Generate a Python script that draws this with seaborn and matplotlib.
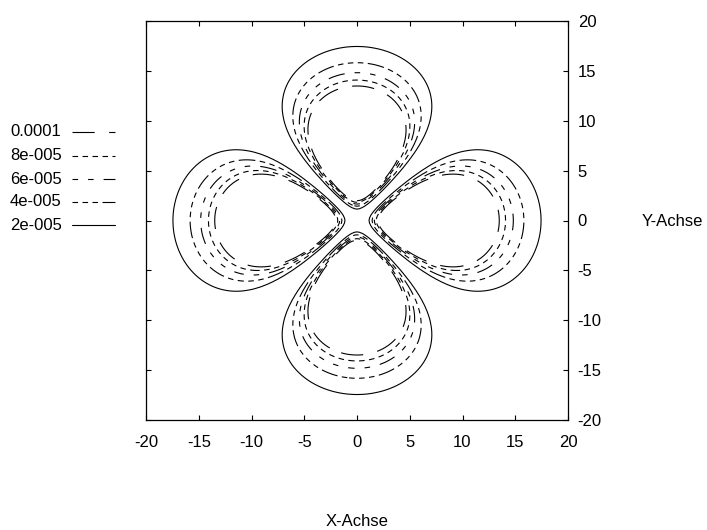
import numpy as np
import matplotlib
matplotlib.use("Agg")
import matplotlib.pyplot as plt
from matplotlib.lines import Line2D
import seaborn as sns

# Contour levels of the probability density (ascending) and their legend text
levels = [2e-5, 4e-5, 6e-5, 8e-5, 1e-4]
level_labels = ["2e-005", "4e-005", "6e-005", "8e-005", "0.0001"]
x_ticks = [-20, -15, -10, -5, 0, 5, 10, 15, 20]
y_ticks = [-20, -15, -10, -5, 0, 5, 10, 15, 20]
x_label = "X-Achse"
y_label = "Y-Achse"

# Pen style for each level (dash lengths in line-width units)
pen_styles = [
    "solid",
    (0, (5, 4, 5, 4, 5, 4, 15, 4)),
    (0, (5, 9, 5, 9, 15, 9)),
    (0, (5, 4)),
    (0, (20, 13)),
]

FS = 12

sns.set_theme(style="white")
plt.rcParams["font.family"] = ["Liberation Sans", "DejaVu Sans"]
plt.rcParams["font.size"] = FS
plt.rcParams["axes.edgecolor"] = "black"
plt.rcParams["text.color"] = "black"
plt.rcParams["xtick.color"] = "black"
plt.rcParams["ytick.color"] = "black"

# Hydrogen 3d(x^2-y^2) orbital density in the z = 0 plane (Bohr radii)
grid = np.linspace(-20, 20, 161)
X, Y = np.meshgrid(grid, grid)
R = np.hypot(X, Y)
radial_sq = (4.0 / (81.0 * np.sqrt(30.0))) ** 2 * np.exp(-2.0 * R / 3.0)
angular_sq = 15.0 / (16.0 * np.pi)
density = radial_sq * angular_sq * (X ** 2 - Y ** 2) ** 2

W, H = 707, 530
fig = plt.figure(figsize=(W / 100, H / 100), dpi=100)
fig.patch.set_facecolor("white")
ax = fig.add_axes([146 / W, 1 - 420 / H, 422 / W, 399 / H])
ax.set_facecolor("white")

lw = 0.8
ax.contour(X, Y, density, levels=levels, colors="black",
           linewidths=lw, linestyles=pen_styles)

ax.set_xlim(-20, 20)
ax.set_ylim(-20, 20)
ax.set_xticks(x_ticks)
ax.set_yticks(y_ticks)
ax.set_xticklabels([str(v) for v in x_ticks])
ax.set_yticklabels([str(v) for v in y_ticks])
for s in ax.spines.values():
    s.set_visible(True)
    s.set_linewidth(0.9)
    s.set_color("black")
ax.tick_params(axis="both", direction="in", length=3.5, width=0.8,
               top=True, bottom=True, left=True, right=True,
               labelleft=False, labelright=True, labelbottom=True,
               labeltop=False, labelsize=FS)
ax.tick_params(axis="x", pad=11)
ax.tick_params(axis="y", pad=7)

fig.text(357 / W, 1 - 522 / H, x_label, ha="center", va="center",
         fontsize=FS)
fig.text(642 / W, 1 - 222 / H, y_label, ha="left", va="center",
         fontsize=FS)

# Legend: label text followed by a short sample of the pen
row_y = [225, 202, 179, 156, 132]
for lab, style, yy in zip(level_labels, pen_styles, row_y):
    fig.text(10 / W, 1 - yy / H, lab, ha="left", va="center", fontsize=FS)
    fig.add_artist(Line2D([72 / W, 115 / W], [1 - yy / H, 1 - yy / H],
                          transform=fig.transFigure, color="black",
                          linewidth=lw, linestyle=style))

fig.savefig("out.png", dpi=100)
